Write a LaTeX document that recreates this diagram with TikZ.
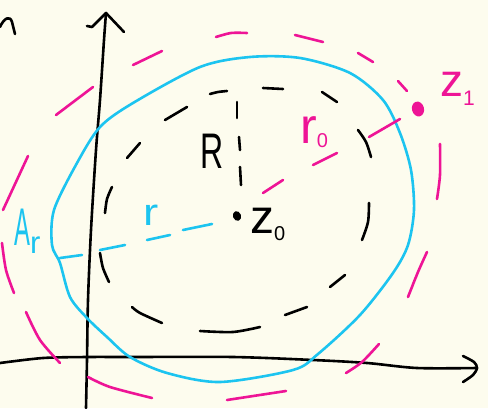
\documentclass[tikz,border=0pt]{standalone}
\usepackage{fontspec}
\setmainfont{Liberation Sans}
\usepackage{graphicx}
\usetikzlibrary{shapes.geometric}
\definecolor{bg}{RGB}{253,252,238}
\definecolor{cy}{RGB}{28,196,240}
\definecolor{mg}{RGB}{238,20,150}
\newcommand{\fs}[1]{\fontsize{#1}{#1}\selectfont}
\begin{document}
\begin{tikzpicture}[x=1pt,y=-1pt,line cap=round,line join=round,
  ink/.style={line width=2.6pt,black},
  cyline/.style={line width=2.6pt,cy},
  mgline/.style={line width=2.6pt,mg},
  lbl/.style={inner sep=0pt,anchor=base west}]
\fill[bg] (0,0) rectangle (488,408);
\useasboundingbox (0,0) rectangle (488,408);

% axes
\coordinate (ytip) at (106,13);
\coordinate (xtip) at (477,368);
\draw[ink] plot[smooth] coordinates {(86,408) (87,360) (88,300) (91,230) (96,150) (100,100) (104,40) (ytip)};
\draw[ink] (87,26) -- (92,27) -- (ytip) -- (124,32);
\draw[ink] plot[smooth] coordinates {(0,363) (43,358) (87,357) (133,357) (233,357) (313,360) (367,363) (417,368) (xtip)};
\draw[ink] plot[smooth] coordinates {(463,356) (474,362) (xtip) (473,375) (463,382)};
% partial letter top-left
\draw[ink] (0,27) .. controls (4,18) and (10,15) .. (12,22) -- (15,34);

% cyan contour A_r
\draw[cyline] plot[smooth cycle,tension=0.5] coordinates {
 (77,163) (100,127) (133,103) (200,67) (250,57) (300,58) (350,73) (383,100)
 (400,133) (411,170) (414,210) (408,245) (393,273) (360,315)
 (318,354) (293,370) (220,382) (167,373) (130,357) (107,337) (87,318) (70,297)
 (60,263) (52,245) (54,210)};
% cyan dashed radius r
\draw[cyline] (60,258) -- (82,255);
\draw[cyline] (100,250) -- (125,245);
\draw[cyline] (147,240) -- (170,235);
\draw[cyline] (183,230) -- (212,224);

% black dashed circle R
\draw[ink] plot[smooth] coordinates {(112,187) (107,199) (105,213)};
\draw[ink] plot[smooth] coordinates {(100,253) (103,268) (109,282)};
\draw[ink] (127,158) -- (140,143);
\draw[ink] (165,120) -- (187,107);
\draw[ink] plot[smooth] coordinates {(210,94) (218,92) (227,91)};
\draw[ink] (263,88) -- (283,89);
\draw[ink] (322,92) -- (337,102);
\draw[ink] plot[smooth] coordinates {(358,130) (366,142) (371,157)};
\draw[ink] plot[smooth] coordinates {(369,203) (368,222) (362,240)};
\draw[ink] (345,275) -- (330,287);
\draw[ink] (307,307) -- (285,315);
\draw[ink] plot[smooth] coordinates {(200,331) (233,332) (260,327)};
\draw[ink] plot[smooth] coordinates {(132,307) (140,313) (162,323)};
% R radius
\draw[ink] (237,102) -- (237,118);
\draw[ink] (239,137) -- (240,150);
\draw[ink] (240,167) -- (241,185);
% z0
\node[fill=black,ellipse,inner sep=0pt,minimum width=8pt,minimum height=10pt,rotate=20] (z0) at (237,216) {};

% magenta outer dashed circle
\draw[mgline] (3,210) -- (28,156);
\draw[mgline] (56,115) -- (93,87);
\draw[mgline] (133,65) -- (162,51);
\draw[mgline] plot[smooth] coordinates {(216,37) (231,33) (247,33)};
\draw[mgline] (295,35) -- (323,42);
\draw[mgline] (358,53) -- (373,62);
\draw[mgline] (398,81) -- (407,91);
\draw[mgline] plot[smooth] coordinates {(440,144) (440,175) (437,199)};
\draw[mgline] plot[smooth] coordinates {(427,252) (418,272) (408,297)};
\draw[mgline] plot[smooth] coordinates {(379,344) (362,362) (346,373)};
\draw[mgline] (286,391) -- (227,400);
\draw[mgline] plot[smooth] coordinates {(152,398) (110,387) (88,377)};
\draw[mgline] plot[smooth] coordinates {(60,363) (40,340) (26,312)};
\draw[mgline] plot[smooth] coordinates {(2,243) (6,270) (14,293)};
% r0 dashed line
\draw[mgline] (263,193) -- (283,180);
\draw[mgline] (313,165) -- (337,153);
\draw[mgline] (369,137) -- (400,119);
% z1
\node[fill=mg,ellipse,inner sep=0pt,minimum width=12pt,minimum height=15pt,rotate=15] (z1) at (418,109) {};

% labels
\node[lbl,black] (Rl) at (200,168) {\fs{50}\scalebox{0.64}[1]{R}};
\node[lbl,cy] (Al) at (14,245) {\fs{53}\scalebox{0.45}[1]{A}\raisebox{-8pt}{\fs{31}r}};
\node[lbl,cy] (rl) at (143,225) {\fs{38}\scalebox{1.2}[1]{r}};
\node[lbl,black] (z0l) at (250,233) {\fs{48}z\raisebox{-7pt}{\fs{20}0}};
\node[lbl,mg] (z1l) at (440,96) {\fs{46}z\raisebox{-9pt}{\fs{21}1}};
\node[lbl,mg] (r0l) at (300,143) {\fs{50}r\raisebox{-4pt}{\fs{20}0}};
\end{tikzpicture}
\end{document}
